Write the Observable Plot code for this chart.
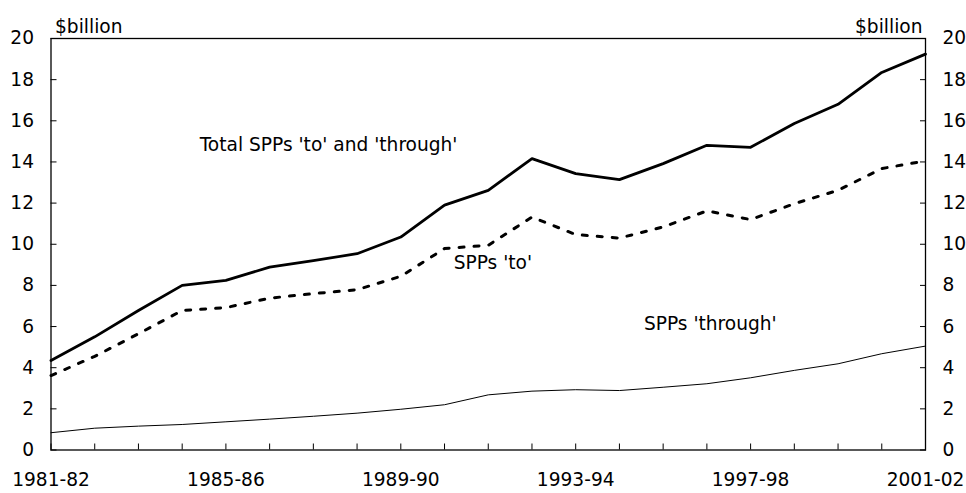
<!DOCTYPE html>
<html>
<head>
<meta charset="utf-8">
<script src="https://cdn.jsdelivr.net/npm/d3@7"></script>
<script src="https://cdn.jsdelivr.net/npm/@observablehq/plot@0.6"></script>
<style>
  html, body { margin: 0; padding: 0; background: #fff; }
  #chart svg { display: block; }
</style>
</head>
<body>
<div id="chart"></div>
<script>
const yearLabels = ["1981-82","1982-83","1983-84","1984-85","1985-86","1986-87","1987-88","1988-89","1989-90","1990-91","1991-92","1992-93","1993-94","1994-95","1995-96","1996-97","1997-98","1998-99","1999-00","2000-01","2001-02"];
const totalValues = [4.35, 5.5, 6.78, 8.0, 8.24, 8.89, 9.2, 9.54, 10.35, 11.9, 12.62, 14.16, 13.43, 13.14, 13.92, 14.81, 14.71, 15.87, 16.8, 18.35, 19.24];
const toValues = [3.62, 4.55, 5.65, 6.78, 6.92, 7.38, 7.6, 7.79, 8.44, 9.79, 9.95, 11.32, 10.47, 10.3, 10.84, 11.62, 11.2, 11.97, 12.62, 13.68, 14.05];
const throughValues = [0.84, 1.06, 1.16, 1.24, 1.37, 1.5, 1.64, 1.79, 1.98, 2.2, 2.68, 2.86, 2.93, 2.89, 3.05, 3.22, 3.51, 3.87, 4.19, 4.68, 5.05];
const labeledYears = ["1981-82","1985-86","1989-90","1993-94","1997-98","2001-02"];
const yTicks = [0, 2, 4, 6, 8, 10, 12, 14, 16, 18, 20];
const annotations = [
  {text: "Total SPPs 'to' and 'through'", year: 1984.4, value: 14.83},
  {text: "SPPs 'to'", year: 1990.21, value: 9.1},
  {text: "SPPs 'through'", year: 1994.56, value: 6.1}
];

const startYear = (label) => parseInt(label.slice(0, 4), 10);
const fmtYear = (y) => yearLabels.find((l) => startYear(l) === y) ?? "";

const rows = (vals) => yearLabels.map((l, i) => ({year: startYear(l), value: vals[i]}));

const font = "DejaVu Sans, Verdana, sans-serif";
const fs = 18.6;

const chart = Plot.plot({
  width: 966,
  height: 493,
  marginLeft: 50.5,
  marginRight: 41,
  marginTop: 38,
  marginBottom: 43.5,
  style: {fontFamily: font, fontSize: fs + "px", color: "#000", background: "#fff"},
  x: {type: "linear", domain: [1981, 2001]},
  y: {domain: [0, 20]},
  marks: [
    Plot.frame({stroke: "#000", strokeWidth: 1.3}),
    Plot.axisX({ticks: yearLabels.map(startYear), tickSize: -6, tickFormat: () => "", label: null, stroke: "#000"}),
    Plot.axisX({ticks: labeledYears.map(startYear), tickSize: 0, tickPadding: 23, tickFormat: fmtYear, label: null, fontSize: fs}),
    Plot.axisY({anchor: "left", ticks: yTicks, tickSize: -6, tickPadding: 23, label: null, fontSize: fs}),
    Plot.axisY({anchor: "right", ticks: yTicks, tickSize: -6, tickPadding: 23, label: null, fontSize: fs}),
    Plot.line(rows(throughValues), {x: "year", y: "value", stroke: "#000", strokeWidth: 1}),
    Plot.line(rows(toValues), {x: "year", y: "value", stroke: "#000", strokeWidth: 3, strokeDasharray: "5,10"}),
    Plot.line(rows(totalValues), {x: "year", y: "value", stroke: "#000", strokeWidth: 2.8}),
    Plot.text(annotations, {x: "year", y: "value", text: "text", textAnchor: "start", fontSize: fs, fill: "#000"}),
    Plot.text(["$billion"], {frameAnchor: "top-left", dx: 4, dy: -19, textAnchor: "start", fontSize: fs, fill: "#000"}),
    Plot.text(["$billion"], {frameAnchor: "top-right", dx: -3, dy: -19, textAnchor: "end", fontSize: fs, fill: "#000"})
  ]
});
document.getElementById("chart").appendChild(chart);
</script>
</body>
</html>
